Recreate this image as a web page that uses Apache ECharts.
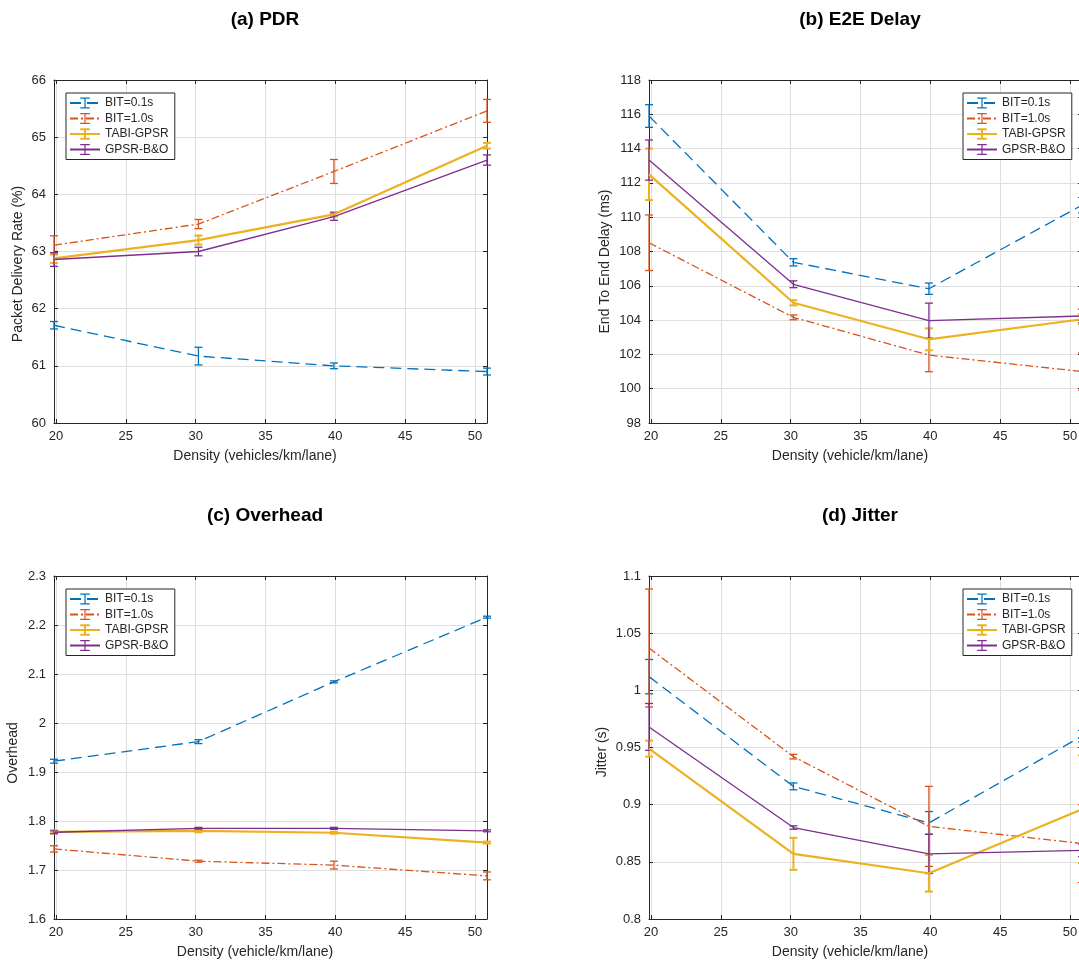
<!DOCTYPE html>
<html>
<head>
<meta charset="utf-8">
<script src="https://cdn.jsdelivr.net/npm/echarts@6/dist/echarts.min.js"></script>
<style>
  html, body { margin: 0; padding: 0; overflow: hidden; background: #fff; }
  #chart { width: 1100px; height: 963px; }
</style>
</head>
<body>
<div id="chart"></div>
<script>
// x values (density) shared by all four panels
var density = [19.86, 30.2, 39.9, 50.86]
var seriesNames = ['BIT=0.1s', 'BIT=1.0s', 'TABI-GPSR', 'GPSR-B&O']

// (a) PDR
var pdrBit01 = [61.71, 61.17, 61.00, 60.90]
var pdrBit01Err = [0.065, 0.155, 0.05, 0.06]
var pdrBit10 = [63.11, 63.48, 64.40, 65.46]
var pdrBit10Err = [0.165, 0.08, 0.21, 0.2]
var pdrTabi = [62.88, 63.20, 63.65, 64.85]
var pdrTabiErr = [0.08, 0.08, 0.04, 0.05]
var pdrGpsr = [62.86, 63.00, 63.61, 64.60]
var pdrGpsrErr = [0.12, 0.075, 0.065, 0.09]

// (b) E2E delay
var delayBit01 = [115.9, 107.37, 105.83, 110.7]
var delayBit01Err = [0.66, 0.21, 0.33, 0.45]
var delayBit10 = [108.51, 104.16, 101.96, 101.0]
var delayBit10Err = [1.62, 0.14, 0.97, 1.08]
var delayTabi = [112.5, 105.01, 102.88, 104.05]
var delayTabiErr = [1.5, 0.15, 0.64, 0.3]
var delayGpsr = [113.33, 106.09, 103.97, 104.24]
var delayGpsrErr = [1.17, 0.2, 1.02, 0.4]

// (c) overhead
var ohBit01 = [1.922, 1.962, 2.084, 2.216]
var ohBit01Err = [0.004, 0.004, 0.002, 0.002]
var ohBit10 = [1.743, 1.718, 1.710, 1.688]
var ohBit10Err = [0.0065, 0.002, 0.008, 0.008]
var ohTabi = [1.778, 1.780, 1.776, 1.756]
var ohTabiErr = [0.003, 0.003, 0.002, 0.002]
var ohGpsr = [1.777, 1.785, 1.785, 1.780]
var ohGpsrErr = [0.003, 0.002, 0.002, 0.002]

// (d) jitter
var jitBit01 = [1.012, 0.916, 0.884, 0.960]
var jitBit01Err = [0.015, 0.003, 0.01, 0.005]
var jitBit10 = [1.037, 0.942, 0.881, 0.866]
var jitBit10Err = [0.0516, 0.002, 0.035, 0.034]
var jitTabi = [0.949, 0.857, 0.840, 0.896]
var jitTabiErr = [0.007, 0.014, 0.016, 0.047]
var jitGpsr = [0.968, 0.880, 0.857, 0.860]
var jitGpsrErr = [0.0205, 0.0015, 0.0172, 0.0055]

var colors = ['#0072BD', '#D95319', '#EDB120', '#7E2F8E']
var lineTypes = [[11, 6], [8, 3, 2, 3], 'solid', 'solid']
var lineWidths = [1.3, 1.3, 2.2, 1.3]
var font = "'Liberation Sans', Arial, Helvetica, sans-serif"
var ink = '#262626'
var ibeam = 'path://M0,0H8M4,0V12M0,12H8'

var panels = [
  { title: '(a) PDR', titleX: 260, titleY: 5, left: 54, top: 80,
    ymin: 60, ymax: 66, ystep: 1, yname: 'Packet Delivery Rate (%)', ygap: 29, yshift: 25,
    xname: 'Density (vehicles/km/lane)', legendX: 66, legendY: 93,
    values: [pdrBit01, pdrBit10, pdrTabi, pdrGpsr], errs: [pdrBit01Err, pdrBit10Err, pdrTabiErr, pdrGpsrErr] },
  { title: '(b) E2E Delay', titleX: 855, titleY: 5, left: 649, top: 80,
    ymin: 98, ymax: 118, ystep: 2, yname: 'End To End Delay (ms)', ygap: 37, yshift: 20,
    xname: 'Density (vehicle/km/lane)', legendX: 963, legendY: 93,
    values: [delayBit01, delayBit10, delayTabi, delayGpsr], errs: [delayBit01Err, delayBit10Err, delayTabiErr, delayGpsrErr] },
  { title: '(c) Overhead', titleX: 260, titleY: 501, left: 54, top: 576,
    ymin: 1.6, ymax: 2.3, ystep: 0.1, yname: 'Overhead', ygap: 34, yshift: 11,
    xname: 'Density (vehicle/km/lane)', legendX: 66, legendY: 589,
    values: [ohBit01, ohBit10, ohTabi, ohGpsr], errs: [ohBit01Err, ohBit10Err, ohTabiErr, ohGpsrErr] },
  { title: '(d) Jitter', titleX: 855, titleY: 501, left: 649, top: 576,
    ymin: 0.8, ymax: 1.1, ystep: 0.05, yname: 'Jitter (s)', ygap: 40, yshift: 9,
    xname: 'Density (vehicle/km/lane)', legendX: 963, legendY: 589,
    values: [jitBit01, jitBit10, jitTabi, jitGpsr], errs: [jitBit01Err, jitBit10Err, jitTabiErr, jitGpsrErr] }
]

function errorBars(p, k, ys, es) {
  var color = colors[k]
  var w = k === 2 ? 2 : 1.3
  return {
    type: 'custom',
    name: seriesNames[k] + ' err',
    xAxisIndex: p * 2,
    yAxisIndex: p * 2,
    silent: true,
    clip: false,
    encode: { x: 0, y: [1, 2] },
    data: density.map(function(x, i) { return [x, ys[i] - es[i], ys[i] + es[i]] }),
    renderItem: function(params, api) {
      var lo = api.coord([api.value(0), api.value(1)])
      var hi = api.coord([api.value(0), api.value(2)])
      var st = { stroke: color, lineWidth: w }
      return {
        type: 'group',
        children: [
          { type: 'line', shape: { x1: lo[0], y1: lo[1], x2: hi[0], y2: hi[1] }, style: st },
          { type: 'line', shape: { x1: lo[0] - 4, y1: lo[1], x2: lo[0] + 4, y2: lo[1] }, style: st },
          { type: 'line', shape: { x1: hi[0] - 4, y1: hi[1], x2: hi[0] + 4, y2: hi[1] }, style: st }
        ]
      }
    }
  }
}

var option = {
  backgroundColor: '#fff',
  animation: false,
  title: [], grid: [], xAxis: [], yAxis: [], legend: [], series: []
}

panels.forEach(function(pn, p) {
  option.title.push({
    text: pn.title, left: pn.titleX, top: pn.titleY, textAlign: 'center',
    textStyle: { fontFamily: font, fontSize: 19, fontWeight: 'bold', color: '#000' }
  })
  option.grid.push({
    left: pn.left, top: pn.top, width: 433, height: 343,
    containLabel: false, outerBoundsMode: 'none'
  })
  var xBase = {
    type: 'value', gridIndex: p, min: 19.86, max: 50.86, minInterval: 5, maxInterval: 5,
    axisLine: { show: true, onZero: false, lineStyle: { color: ink, width: 1 } },
    axisTick: { show: true, inside: true, length: 4, lineStyle: { color: ink } }
  }
  option.xAxis.push(Object.assign({}, xBase, {
    position: 'bottom',
    name: pn.xname, nameLocation: 'middle', nameGap: 26,
    nameTextStyle: { fontFamily: font, fontSize: 14, color: ink, padding: [0, 31, 0, 0] },
    axisLabel: { show: true, margin: 7, fontFamily: font, fontSize: 13, color: ink, showMinLabel: false, showMaxLabel: false },
    splitLine: { show: true, lineStyle: { color: '#dfdfdf', width: 1 } }
  }))
  option.xAxis.push(Object.assign({}, xBase, {
    position: 'top', axisLabel: { show: false }, splitLine: { show: false }
  }))
  var yBase = {
    type: 'value', gridIndex: p, min: pn.ymin, max: pn.ymax, interval: pn.ystep,
    axisLine: { show: true, onZero: false, lineStyle: { color: ink, width: 1 } },
    axisTick: { show: true, inside: true, length: 4, lineStyle: { color: ink } }
  }
  option.yAxis.push(Object.assign({}, yBase, {
    position: 'left',
    name: pn.yname, nameLocation: 'middle', nameGap: pn.ygap,
    nameTextStyle: { fontFamily: font, fontSize: 14, color: ink, padding: [0, pn.yshift, 0, 0] },
    axisLabel: { show: true, margin: 8, fontFamily: font, fontSize: 13, color: ink },
    splitLine: { show: true, lineStyle: { color: '#dfdfdf', width: 1 } }
  }))
  option.yAxis.push(Object.assign({}, yBase, {
    position: 'right', axisLabel: { show: false }, splitLine: { show: false }
  }))
  option.legend.push({
    left: pn.legendX, top: pn.legendY, orient: 'vertical',
    selectedMode: false,
    backgroundColor: '#fff', borderColor: ink, borderWidth: 1,
    padding: [4, 6, 4, 3], itemGap: 3.5, itemWidth: 30, itemHeight: 12,
    textStyle: { fontFamily: font, fontSize: 12, color: ink, lineHeight: 12 },
    data: seriesNames.map(function(n, k) {
      return { name: n, itemStyle: { borderWidth: k === 2 ? 2 : 1.2 } }
    })
  })
  for (var k = 0; k < 4; k++) {
    var ys = pn.values[k]
    option.series.push({
      type: 'line',
      name: seriesNames[k],
      xAxisIndex: p * 2,
      yAxisIndex: p * 2,
      data: density.map(function(x, i) { return [x, ys[i]] }),
      symbol: ibeam,
      showSymbol: false,
      silent: true,
      lineStyle: { color: colors[k], width: lineWidths[k], type: lineTypes[k] },
      itemStyle: { color: colors[k], borderColor: colors[k], borderWidth: 1.2 },
      emphasis: { disabled: true }
    })
    option.series.push(errorBars(p, k, ys, pn.errs[k]))
  }
})

var chart = echarts.init(document.getElementById('chart'))
chart.setOption(option)
</script>
</body>
</html>
